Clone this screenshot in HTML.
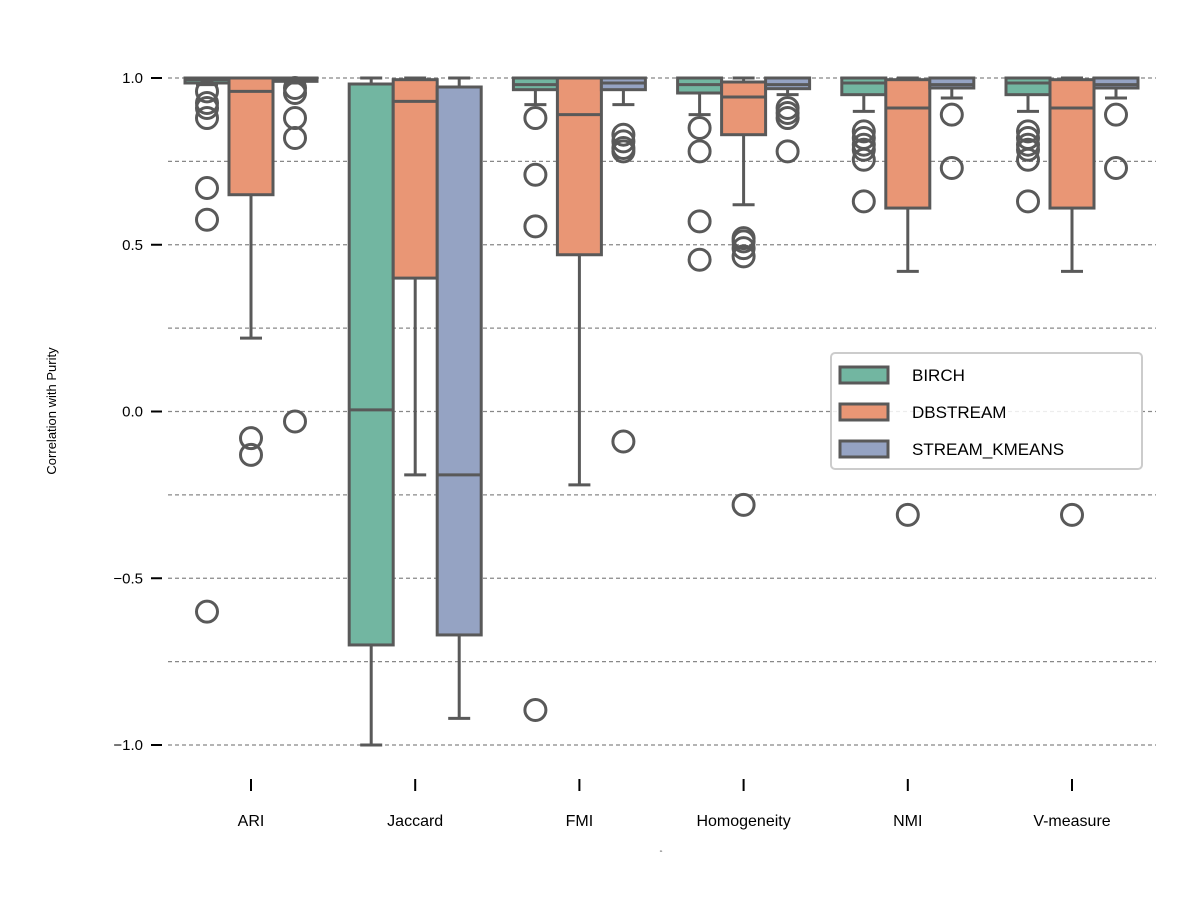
<!DOCTYPE html>
<html><head><meta charset="utf-8"><style>body{margin:0;background:#fff}svg{display:block}</style></head>
<body>
<svg id="chart" width="1200" height="900" xmlns="http://www.w3.org/2000/svg" font-family="Liberation Sans, DejaVu Sans, sans-serif"></svg>
<script>
const categories = ["ARI","Jaccard","FMI","Homogeneity","NMI","V-measure"];
const seriesNames = ["BIRCH","DBSTREAM","STREAM_KMEANS"];
const seriesColors = ["#72b6a1","#e99675","#95a3c3"];
const yTicks = [-1.0,-0.5,0.0,0.5,1.0];
const yTickLabels = ["\u22121.0","\u22120.5","0.0","0.5","1.0"];
const gridLines = [-1,-0.75,-0.5,-0.25,0,0.25,0.5,0.75,1];
// each: [whisLo, q1, median, q3, whisHi]
const birchStats = [[0.98,0.985,0.995,1.0,1.0],[-1.0,-0.70,0.005,0.982,1.0],[0.92,0.965,0.98,1.0,1.0],[0.89,0.955,0.98,1.0,1.0],[0.90,0.95,0.985,1.0,1.0],[0.90,0.95,0.985,1.0,1.0]];
const dbstreamStats = [[0.22,0.65,0.96,1.0,1.0],[-0.19,0.40,0.93,0.995,1.0],[-0.22,0.47,0.89,1.0,1.0],[0.62,0.83,0.943,0.988,1.0],[0.42,0.61,0.91,0.995,1.0],[0.42,0.61,0.91,0.995,1.0]];
const streamStats = [[0.985,0.99,0.997,1.0,1.0],[-0.92,-0.67,-0.19,0.973,1.0],[0.92,0.965,0.985,1.0,1.0],[0.95,0.968,0.98,1.0,1.0],[0.94,0.97,0.98,1.0,1.0],[0.94,0.97,0.98,1.0,1.0]];
const birchOutliers = [[0.96,0.925,0.91,0.88,0.67,0.575,-0.60],[],[0.88,0.71,0.555,-0.895],[0.85,0.78,0.57,0.455],[0.84,0.82,0.80,0.785,0.755,0.63],[0.84,0.82,0.80,0.785,0.755,0.63]];
const dbstreamOutliers = [[-0.08,-0.13],[],[],[0.52,0.51,0.49,0.465,-0.28],[-0.31],[-0.31]];
const streamOutliers = [[0.97,0.955,0.88,0.82,-0.03],[],[0.83,0.81,0.79,0.78,-0.09],[0.91,0.895,0.88,0.78],[0.89,0.73],[0.89,0.73]];

const allStats=[birchStats,dbstreamStats,streamStats];
const allOut=[birchOutliers,dbstreamOutliers,streamOutliers];
const NS="http://www.w3.org/2000/svg";
const svg=document.getElementById('chart');
const yS=v=>411.5-v*333.5;
const xS=i=>251+i*164.2;
const hueOff=s=>(s-1)*44;
const EDGE="#595959";
function mk(tag,attrs,parent){const e=document.createElementNS(NS,tag);for(const k in attrs)e.setAttribute(k,attrs[k]);(parent||svg).appendChild(e);return e;}

const grid=mk('g',{});


gridLines.forEach(v=>{const l=mk('line',{x1:168,x2:1156,y1:yS(v),y2:yS(v),stroke:'#888',"stroke-width":1.2,"stroke-dasharray":"4,3"},grid);

});

const yAx=mk('g',{});


yTicks.forEach((v,i)=>{mk('line',{x1:151,x2:162,y1:yS(v),y2:yS(v),stroke:'#000',"stroke-width":2},yAx);
const t=mk('text',{x:143,y:yS(v)+5,"text-anchor":"end","font-size":15},yAx);t.textContent=yTickLabels[i];

});
const yl=mk('text',{transform:'translate(56,411) rotate(-90)',"text-anchor":"middle","font-size":13});
yl.textContent="Correlation with Purity";



const xAx=mk('g',{});


categories.forEach((c,i)=>{mk('line',{x1:xS(i),x2:xS(i),y1:779,y2:791,stroke:'#000',"stroke-width":2},xAx);
const t=mk('text',{x:xS(i),y:826,"text-anchor":"middle","font-size":16},xAx);t.textContent=c;

});
const xl=mk('text',{x:661,y:852,"text-anchor":"middle","font-size":3});
xl.textContent="m";



const hw=22;
allStats.forEach((stats,s)=>{
 const g=mk('g',{});
 
 
 stats.forEach((st,i)=>{
  const cx=xS(i)+hueOff(s);
  const [lo,q1,md,q3,hi]=st;
  mk('line',{x1:cx,x2:cx,y1:yS(hi),y2:yS(q3),stroke:EDGE,"stroke-width":3},g);
  mk('line',{x1:cx,x2:cx,y1:yS(q1),y2:yS(lo),stroke:EDGE,"stroke-width":3},g);
  mk('line',{x1:cx-11,x2:cx+11,y1:yS(hi),y2:yS(hi),stroke:EDGE,"stroke-width":3},g);
  mk('line',{x1:cx-11,x2:cx+11,y1:yS(lo),y2:yS(lo),stroke:EDGE,"stroke-width":3},g);
  const r=mk('rect',{x:cx-hw,y:yS(q3),width:2*hw,height:Math.max(1,yS(q1)-yS(q3)),fill:seriesColors[s],stroke:EDGE,"stroke-width":3},g);
  
  
  mk('line',{x1:cx-hw,x2:cx+hw,y1:yS(md),y2:yS(md),stroke:EDGE,"stroke-width":3},g);
  allOut[s][i].forEach(v=>{const c=mk('circle',{cx:cx,cy:yS(v),r:10.5,fill:'none',stroke:EDGE,"stroke-width":3},g);
  
  });
 });
});

const leg=mk('g',{});


mk('rect',{x:831,y:353,width:311,height:116,rx:4,fill:'#fff',"fill-opacity":0.85,stroke:'#ccc',"stroke-width":2},leg);
seriesNames.forEach((n,s)=>{const y=374+s*37;
 const p=mk('rect',{x:840,y:y-7,width:48,height:16,fill:seriesColors[s],stroke:EDGE,"stroke-width":3},leg);
 
 
 const t=mk('text',{x:912,y:y+7,"font-size":17},leg);t.textContent=n;
 
 });
</script>
</body></html>
